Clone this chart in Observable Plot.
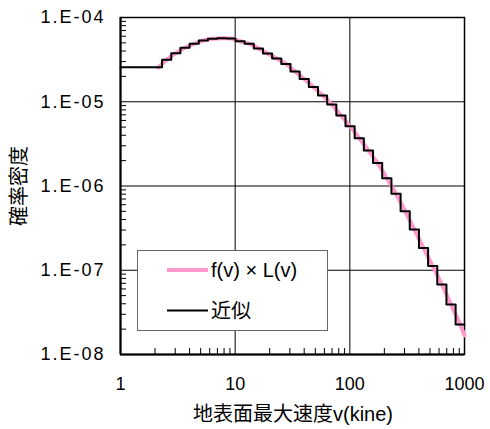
<!DOCTYPE html>
<html><head><meta charset="utf-8">
<script src="https://cdn.jsdelivr.net/npm/d3@7"></script>
<script src="https://cdn.jsdelivr.net/npm/@observablehq/plot@0.6"></script>
<style>
body{margin:0;background:#fff;}
#chart svg{display:block;background:#fff;}
</style></head><body><div id="chart"></div>
<script>
// ---- data ----
const xTicks = [1, 10, 100, 1000];
const xTickLabels = ["1", "10", "100", "1000"];
const yTicks = [1e-8, 1e-7, 1e-6, 1e-5, 1e-4];
const yTickLabels = ["1.E-08", "1.E-07", "1.E-06", "1.E-05", "1.E-04"];
const xMinor = [2,3,4,5,6,7,8,9,20,30,40,50,60,70,80,90,200,300,400,500,600,700,800,900];
const yMinor = [2e-8,3e-8,4e-8,5e-8,6e-8,7e-8,8e-8,9e-8,2e-7,3e-7,4e-7,5e-7,6e-7,7e-7,8e-7,9e-7,
                2e-6,3e-6,4e-6,5e-6,6e-6,7e-6,8e-6,9e-6,2e-5,3e-5,4e-5,5e-5,6e-5,7e-5,8e-5,9e-5];

// step approximation ("近似"): left edge of each step and its value
const stepV = [1, 2.305, 2.771, 3.331, 4.005, 4.815, 5.788, 6.958, 8.365, 10.06, 12.09, 14.54, 17.48,
  21.01, 25.26, 30.37, 36.51, 43.89, 52.77, 63.43, 76.26, 91.68, 110.2, 132.5, 159.3, 191.5,
  230.5, 277.1, 333.1, 400.5, 481.5, 578.8, 695.8, 836.5, 1000];
const stepP = [2.57e-5, 3.15e-5, 3.77e-5, 4.37e-5, 4.88e-5, 5.33e-5, 5.59e-5, 5.68e-5, 5.64e-5,
  5.23e-5, 4.88e-5, 4.29e-5, 3.74e-5, 3.26e-5, 2.81e-5, 2.29e-5, 1.86e-5, 1.50e-5, 1.19e-5,
  9.28e-6, 6.87e-6, 5.13e-6, 3.69e-6, 2.64e-6, 1.87e-6, 1.24e-6, 8.07e-7, 5.02e-7, 3.05e-7,
  1.84e-7, 1.12e-7, 6.78e-8, 3.92e-8, 2.27e-8, 2.27e-8];

// smooth curve f(v) x L(v)
const curveV = [2.14, 2.527, 3.038, 3.652, 4.391, 5.279, 6.347, 7.630, 9.173, 11.03, 13.26, 15.94,
  19.16, 23.04, 27.69, 33.29, 40.03, 48.12, 57.85, 69.55, 83.62, 100.5, 120.9, 145.3, 174.7,
  210.0, 252.5, 303.6, 365.0, 438.8, 527.5, 634.2, 762.4, 916.6, 1000];
const curveP = [2.55e-5, 3.15e-5, 3.77e-5, 4.37e-5, 4.88e-5, 5.33e-5, 5.59e-5, 5.68e-5, 5.64e-5,
  5.23e-5, 4.88e-5, 4.29e-5, 3.74e-5, 3.26e-5, 2.81e-5, 2.29e-5, 1.86e-5, 1.50e-5, 1.19e-5,
  9.28e-6, 6.87e-6, 5.13e-6, 3.69e-6, 2.64e-6, 1.87e-6, 1.24e-6, 8.07e-7, 5.02e-7, 3.05e-7,
  1.84e-7, 1.12e-7, 6.78e-8, 3.92e-8, 2.27e-8, 1.68e-8];

const seriesNames = ["f(v) × L(v)", "近似"];
const xLabel = "地表面最大速度v(kine)";
const yLabel = "確率密度";

const curve = curveV.map((v, i) => ({v, p: curveP[i]}));
const steps = stepV.map((v, i) => ({v, p: stepP[i]}));

const font = "'Liberation Sans', Arial, 'Noto Sans CJK JP', sans-serif";

const chart = Plot.plot({
  width: 490, height: 429,
  marginLeft: 120, marginRight: 26, marginTop: 17, marginBottom: 75,
  style: {fontFamily: font, fontSize: "18px", color: "#000", background: "#fff"},
  x: {type: "log", domain: [1, 1000], label: null},
  y: {type: "log", domain: [1e-8, 1e-4], label: null},
  marks: [
    Plot.gridX([10, 100], {stroke: "#000", strokeOpacity: 1, strokeWidth: 1}),
    Plot.gridY([1e-7, 1e-6, 1e-5], {stroke: "#000", strokeOpacity: 1, strokeWidth: 1}),
    Plot.axisX(xMinor, {anchor: "bottom", tickSize: -6, tickFormat: () => "", strokeWidth: 1, label: null}),
    Plot.axisY(yMinor, {anchor: "left", tickSize: -6, tickFormat: () => "", strokeWidth: 1, label: null}),
    Plot.axisX(xTicks, {anchor: "bottom", tickSize: 0, tickPadding: 23, fontSize: 18,
      tickFormat: (d) => xTickLabels[xTicks.indexOf(d)], label: null}),
    Plot.axisY(yTicks, {anchor: "left", tickSize: 0, tickPadding: 15, fontSize: 18,
      tickFormat: (d) => yTickLabels[yTicks.indexOf(d)], label: null}),
    Plot.frame({stroke: "#000", strokeWidth: 1.5}),
    Plot.ruleX([1], {stroke: "#000", strokeWidth: 2}),
    Plot.ruleY([1e-8], {stroke: "#000", strokeWidth: 2}),
    Plot.line(curve, {x: "v", y: "p", stroke: "#ff99cc", strokeWidth: 4, curve: "catmull-rom"}),
    Plot.line(steps, {x: "v", y: "p", stroke: "#000", strokeWidth: 2, curve: "step-after"})
  ]
});

const svg = d3.select(chart);
svg.selectAll('g[aria-label="y-axis tick label"] text').attr("letter-spacing", "2px");

// axis titles
svg.append("text").attr("x", 293).attr("y", 414).attr("text-anchor", "middle")
  .attr("dominant-baseline", "central").attr("font-size", 20).attr("font-family", font)
  .attr("fill", "#000").text(xLabel);
svg.append("text").attr("transform", "translate(19,186) rotate(-90)").attr("text-anchor", "middle")
  .attr("dominant-baseline", "central").attr("font-size", 20).attr("font-family", font)
  .attr("fill", "#000").text(yLabel);

// legend
const lg = svg.append("g");
lg.append("rect").attr("x", 137.5).attr("y", 250.5).attr("width", 190).attr("height", 80)
  .attr("fill", "#fff").attr("stroke", "#666").attr("stroke-width", 1);
const legendColors = ["#ff99cc", "#000"];
const legendWidths = [4, 2];
seriesNames.forEach((name, i) => {
  const y = 270 + i * 40.5;
  lg.append("line").attr("x1", 167).attr("x2", 208).attr("y1", y).attr("y2", y)
    .attr("stroke", legendColors[i]).attr("stroke-width", legendWidths[i]);
  lg.append("text").attr("x", 211).attr("y", y).attr("text-anchor", "start")
    .attr("dominant-baseline", "central")
    .attr("font-size", 20).attr("font-family", font).attr("fill", "#000").text(name);
});

document.getElementById("chart").appendChild(chart);
</script></body></html>
